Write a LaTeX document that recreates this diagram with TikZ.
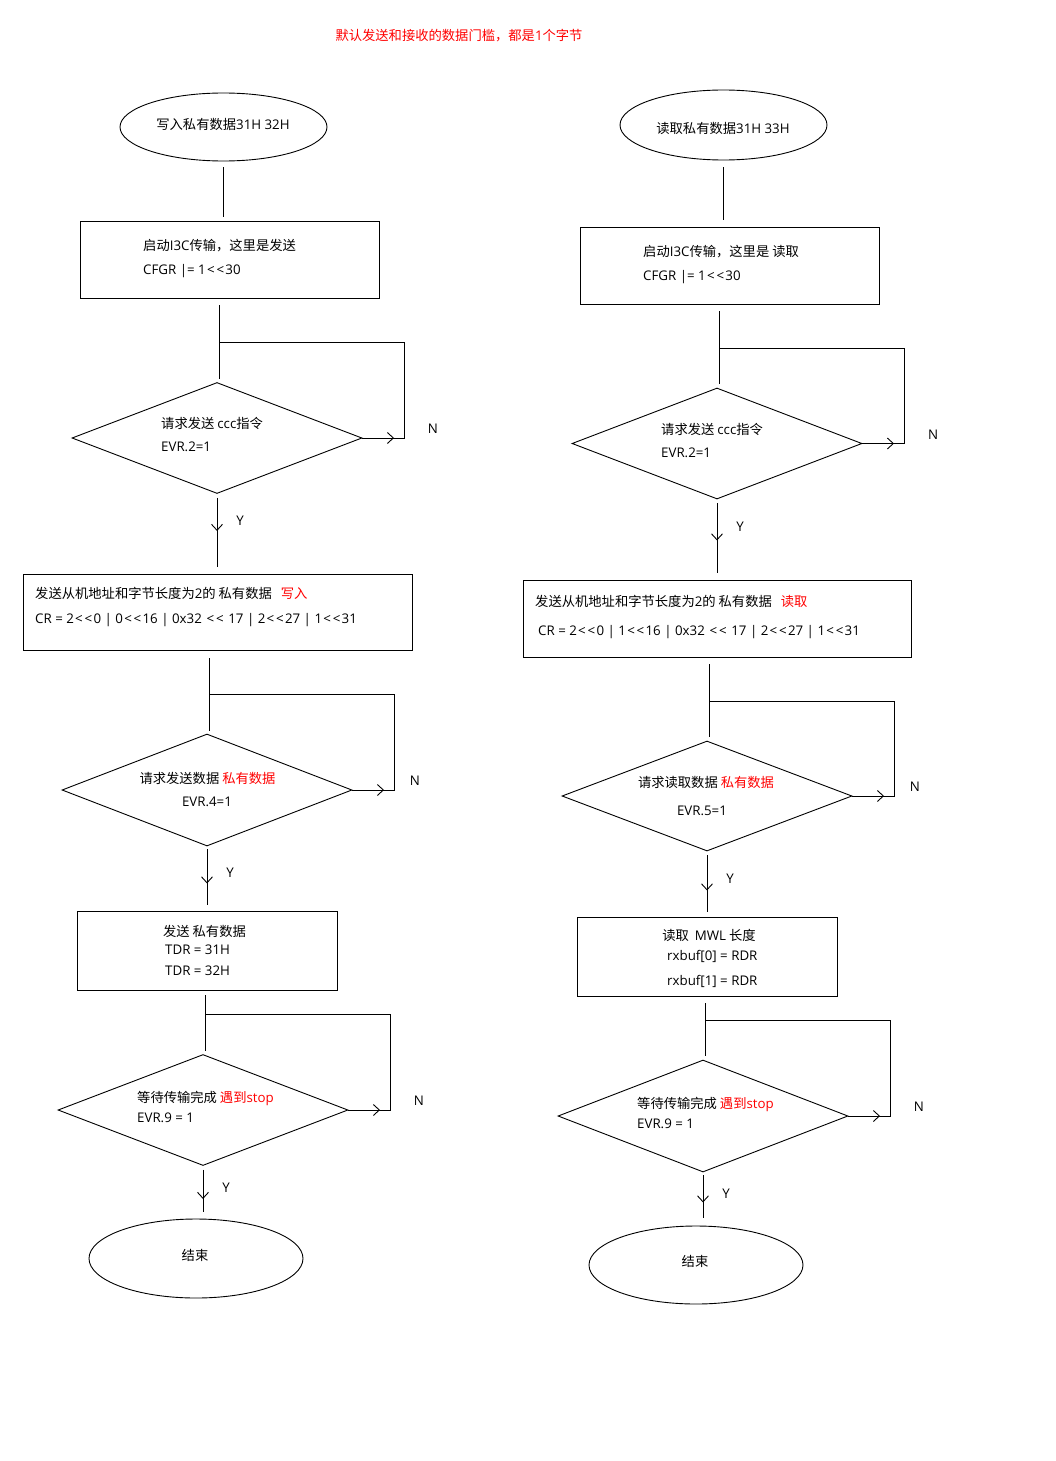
\documentclass[tikz,border=0pt]{standalone}
\usepackage{fontspec}
\setmainfont{Noto Sans CJK SC}[Ligatures=TeXOff]
\newfontfamily\latfont{Open Sans}[Ligatures=TeXOff]
\newcommand{\lt}[1]{{\latfont #1}}
\newcommand{\shl}{\kern1.3pt<\kern1.8pt<\kern1.3pt}
\usetikzlibrary{shapes.geometric,arrows.meta}
\tikzset{
  base/.style={draw, line width=0.9pt, inner sep=0pt},
  term/.style={base, ellipse},
  proc/.style={base, rectangle},
  dec/.style={base, diamond},
  txt/.style={inner sep=0pt, font=\fontsize{13.3}{16}\selectfont},
  conn/.style={line width=0.9pt},
  arr/.style={line width=0.9pt, -{Straight Barb[length=6pt,width=11pt]}},
}
\begin{document}
\begin{tikzpicture}[x=1pt,y=-1pt]
\useasboundingbox[fill=white] (0,0) rectangle (1055,1461);

% title
\node[txt, text=red] (title) at (459,36) {默认发送和接收的数据门槛，都是\lt{1}个字节};

% ================= left column =================
\node[term, minimum width=207pt, minimum height=68pt] (ws) at (223.5,127) {};
\node[txt] (wst) at (223,124) {写入私有数据\lt{31H 32H}};

\node[proc, minimum width=299pt, minimum height=77pt] (wb1) at (229.5,259.5) {};
\node[txt, anchor=west] (wb1a) at (143,246) {启动\lt{I3C}传输，这里是发送};
\node[txt, anchor=west] (wb1b) at (143,271) {\lt{CFGR |= 1\shl30}};

\node[dec, minimum width=290pt, minimum height=111pt] (wd1) at (217,438) {};
\node[txt, anchor=west] (wd1a) at (161,423) {请求发送 \lt{ccc}指令};
\node[txt, anchor=west] (wd1b) at (161,447) {\lt{EVR.2=1}};
\coordinate (wl1) at (404,342);
\coordinate (wc1) at ([xshift=2pt]wd1.north);
\node[txt] (wn1) at (433,429) {\lt{N}};
\node[txt] (wy1) at (240,521) {\lt{Y}};

\node[proc, minimum width=389pt, minimum height=76pt] (wb2) at (217.5,612) {};
\node[txt, anchor=west] (wb2a) at (35,593) {发送从机地址和字节长度为\lt{2}的 私有数据\hspace{9pt}\textcolor{red}{写入}};
\node[txt, anchor=west] (wb2b) at (35,620) {\lt{CR = 2\shl0 | 0\shl16 | 0x32 \shl\ 17 | 2\shl27 | 1\shl31}};

\node[dec, minimum width=290pt, minimum height=112pt] (wd2) at (207,790) {};
\node[txt] (wd2a) at (207.5,778) {请求发送数据 \textcolor{red}{私有数据}};
\node[txt] (wd2b) at (207,802) {\lt{EVR.4=1}};
\coordinate (wl2) at (394,694);
\coordinate (wc2) at ([xshift=2pt]wd2.north);
\node[txt] (wn2) at (415,781) {\lt{N}};
\node[txt] (wy2) at (230,873) {\lt{Y}};

\node[proc, minimum width=260pt, minimum height=79pt] (wb3) at (207,950.5) {};
\node[txt] (wb3a) at (204.5,931) {发送 私有数据};
\node[txt, anchor=west] (wb3b) at (165,950) {\lt{TDR = 31H}};
\node[txt, anchor=west] (wb3c) at (165,971) {\lt{TDR = 32H}};

\node[dec, minimum width=290pt, minimum height=111pt] (wd3) at (203,1110) {};
\node[txt, anchor=west] (wd3a) at (137,1098) {等待传输完成 \textcolor{red}{遇到\lt{stop}}};
\node[txt, anchor=west] (wd3b) at (137,1118) {\lt{EVR.9 = 1}};
\coordinate (wl3) at (390,1014);
\coordinate (wc3) at ([xshift=2pt]wd3.north);
\node[txt] (wn3) at (419,1101) {\lt{N}};
\node[txt] (wy3) at (226,1188) {\lt{Y}};

\node[term, minimum width=214pt, minimum height=79pt] (we) at (196,1258.5) {};
\node[txt] (wet) at (195,1255) {结束};

% left connectors
\draw[conn] ([yshift=-6pt]ws.south) -- ([yshift=4pt]ws.south |- wb1.north);
\draw[conn] ([yshift=-7pt]wc1 |- wb1.south) -- ([yshift=3pt]wc1);
\draw[conn] (wd1.east) -| (wl1) -- (wl1 -| wc1);
\draw[arr] (wd1.east) -- ([xshift=-10pt]wd1.east -| wl1);
\draw[conn] ([yshift=-4pt]wd1.south) -- ([yshift=7pt]wd1.south |- wb2.north);
\draw[arr] ([yshift=-4pt]wd1.south) -- ([yshift=-37pt]wd1.south);

\draw[conn] ([yshift=-8pt]wc2 |- wb2.south) -- ([yshift=3pt]wc2);
\draw[conn] (wd2.east) -| (wl2) -- (wl2 -| wc2);
\draw[arr] (wd2.east) -- ([xshift=-10pt]wd2.east -| wl2);
\draw[conn] ([yshift=-3pt]wd2.south) -- ([yshift=6pt]wd2.south |- wb3.north);
\draw[arr] ([yshift=-3pt]wd2.south) -- ([yshift=-37pt]wd2.south);

\draw[conn] ([yshift=-5pt]wc3 |- wb3.south) -- ([yshift=3pt]wc3);
\draw[conn] (wd3.east) -| (wl3) -- (wl3 -| wc3);
\draw[arr] (wd3.east) -- ([xshift=-10pt]wd3.east -| wl3);
\draw[conn] ([yshift=-4pt]wd3.south) -- ([yshift=7pt]wd3.south |- we.north);
\draw[arr] ([yshift=-4pt]wd3.south) -- ([yshift=-33pt]wd3.south);

% ================= right column =================
\node[term, minimum width=207pt, minimum height=70pt] (rs) at (723.5,125) {};
\node[txt] (rst) at (723,128) {读取私有数据\lt{31H 33H}};

\node[proc, minimum width=299pt, minimum height=77pt] (rb1) at (729.5,265.5) {};
\node[txt, anchor=west] (rb1a) at (643,252) {启动\lt{I3C}传输，这里是 读取};
\node[txt, anchor=west] (rb1b) at (643,277) {\lt{CFGR |= 1\shl30}};

\node[dec, minimum width=290pt, minimum height=111pt] (rd1) at (717,443.5) {};
\node[txt, anchor=west] (rd1a) at (661,429) {请求发送 \lt{ccc}指令};
\node[txt, anchor=west] (rd1b) at (661,453) {\lt{EVR.2=1}};
\coordinate (rl1) at (904,348);
\coordinate (rc1) at ([xshift=2pt]rd1.north);
\node[txt] (rn1) at (933,435) {\lt{N}};
\node[txt] (ry1) at (740,527) {\lt{Y}};

\node[proc, minimum width=388pt, minimum height=77pt] (rb2) at (717,618.5) {};
\node[txt, anchor=west] (rb2a) at (535,601) {发送从机地址和字节长度为\lt{2}的 私有数据\hspace{9pt}\textcolor{red}{读取}};
\node[txt, anchor=west] (rb2b) at (538,632) {\lt{CR = 2\shl0 | 1\shl16 | 0x32 \shl\ 17 | 2\shl27 | 1\shl31}};

\node[dec, minimum width=290pt, minimum height=110pt] (rd2) at (707,796) {};
\node[txt] (rd2a) at (706,782) {请求读取数据 \textcolor{red}{私有数据}};
\node[txt] (rd2b) at (702,811) {\lt{EVR.5=1}};
\coordinate (rl2) at (894,701);
\coordinate (rc2) at ([xshift=2pt]rd2.north);
\node[txt] (rn2) at (915,787) {\lt{N}};
\node[txt] (ry2) at (730,879) {\lt{Y}};

\node[proc, minimum width=260pt, minimum height=79pt] (rb3) at (707,956.5) {};
\node[txt] (rb3a) at (709,935) {读取\hspace{6pt}\lt{MWL} 长度};
\node[txt, anchor=west] (rb3b) at (667,956) {\lt{rxbuf[0] = RDR}};
\node[txt, anchor=west] (rb3c) at (667,981) {\lt{rxbuf[1] = RDR}};

\node[dec, minimum width=290pt, minimum height=112pt] (rd3) at (703,1116) {};
\node[txt, anchor=west] (rd3a) at (637,1104) {等待传输完成 \textcolor{red}{遇到\lt{stop}}};
\node[txt, anchor=west] (rd3b) at (637,1124) {\lt{EVR.9 = 1}};
\coordinate (rl3) at (890,1020);
\coordinate (rc3) at ([xshift=2pt]rd3.north);
\node[txt] (rn3) at (919,1107) {\lt{N}};
\node[txt] (ry3) at (726,1194) {\lt{Y}};

\node[term, minimum width=214pt, minimum height=78pt] (re) at (696,1265) {};
\node[txt] (ret) at (695,1261) {结束};

% right connectors
\draw[conn] ([yshift=-7pt]rs.south) -- ([yshift=7pt]rs.south |- rb1.north);
\draw[conn] ([yshift=-7pt]rc1 |- rb1.south) -- ([yshift=4pt]rc1);
\draw[conn] (rd1.east) -| (rl1) -- (rl1 -| rc1);
\draw[arr] (rd1.east) -- ([xshift=-10pt]rd1.east -| rl1);
\draw[conn] ([yshift=-4pt]rd1.south) -- ([yshift=7pt]rd1.south |- rb2.north);
\draw[arr] ([yshift=-4pt]rd1.south) -- ([yshift=-41pt]rd1.south);

\draw[conn] ([yshift=-7pt]rc2 |- rb2.south) -- ([yshift=4pt]rc2);
\draw[conn] (rd2.east) -| (rl2) -- (rl2 -| rc2);
\draw[arr] (rd2.east) -- ([xshift=-10pt]rd2.east -| rl2);
\draw[conn] ([yshift=-4pt]rd2.south) -- ([yshift=5pt]rd2.south |- rb3.north);
\draw[arr] ([yshift=-4pt]rd2.south) -- ([yshift=-39pt]rd2.south);

\draw[conn] ([yshift=-7pt]rc3 |- rb3.south) -- ([yshift=4pt]rc3);
\draw[conn] (rd3.east) -| (rl3) -- (rl3 -| rc3);
\draw[arr] (rd3.east) -- ([xshift=-10pt]rd3.east -| rl3);
\draw[conn] ([yshift=-3pt]rd3.south) -- ([yshift=8pt]rd3.south |- re.north);
\draw[arr] ([yshift=-3pt]rd3.south) -- ([yshift=-30pt]rd3.south);
\end{tikzpicture}
\end{document}
